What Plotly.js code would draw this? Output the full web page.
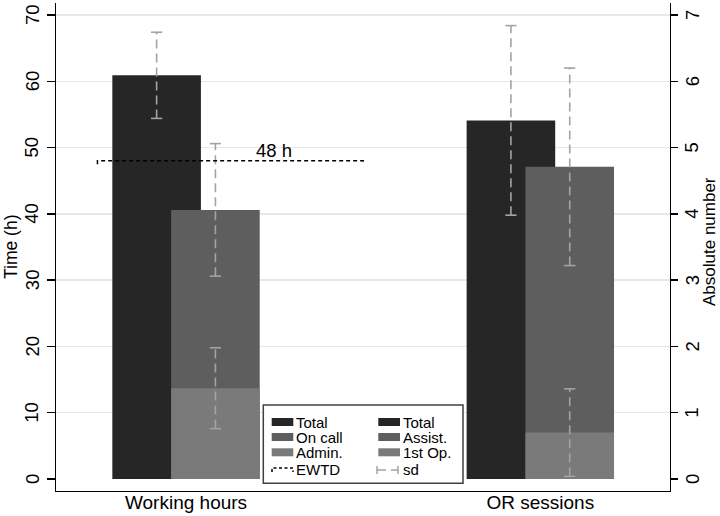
<!DOCTYPE html>
<html><head><meta charset="utf-8">
<script src="https://cdn.plot.ly/plotly-3.0.1.min.js"></script>
<style>html,body{margin:0;padding:0;background:#fff}</style>
</head><body><div id="chart" style="width:720px;height:516px"></div>
<script>
// ---- data ----
const categories = ['Working hours', 'OR sessions'];
const whLabels = ['Total', 'On call', 'Admin.'];
const whMeans = [60.9, 40.6, 13.7];
const whSD = [6.5, 10.0, 6.1];
const orLabels = ['Total', 'Assist.', '1st Op.'];
const orMeans = [5.41, 4.71, 0.70];
const orSD = [1.43, 1.49, 0.66];
const ewtdHours = 48;
const ewtdLabel = '48 h';
const ewtdSpan = [-0.25, 0.5];
const legendCol1 = ['Total', 'On call', 'Admin.', 'EWTD'];
const legendCol2 = ['Total', 'Assist.', '1st Op.', 'sd'];
const yTitleLeft = 'Time (h)';
const yTitleRight = 'Absolute number';
const leftTicks = [0, 10, 20, 30, 40, 50, 60, 70];
const rightTicks = [0, 1, 2, 3, 4, 5, 6, 7];

// ---- style ----
const FONT = 'Liberation Sans, Arial, Helvetica, sans-serif';
const barColors = ['#262626', '#5e5e5e', '#7a7a7a'];
const slotOffset = [-0.208, -0.042, -0.042];
const barWidth = 0.25;
const errColor = '#a3a3a3';

const traces = [];
function addGroup(catIndex, labels, means, sds, yaxis) {
  labels.forEach((lab, i) => {
    traces.push({
      type: 'bar', x: [catIndex], y: [means[i]], yaxis: yaxis,
      offset: slotOffset[i], width: barWidth,
      marker: {color: barColors[i], line: {width: 0}},
      name: lab, showlegend: false, hoverinfo: 'skip'
    });
  });
  const ex = [], ey = [];
  labels.forEach((lab, i) => {
    const xc = catIndex + slotOffset[i] + barWidth / 2;
    ex.push(xc, xc, null);
    ey.push(means[i] - sds[i], means[i] + sds[i], null);
  });
  traces.push({
    type: 'scatter', mode: 'lines+markers', x: ex, y: ey, yaxis: yaxis,
    line: {color: errColor, width: 1.6, dash: '9px,5px'},
    marker: {symbol: 'line-ew', size: 8, color: errColor, line: {color: errColor, width: 1.6}},
    showlegend: false, hoverinfo: 'skip', cliponaxis: false
  });
}
addGroup(0, whLabels, whMeans, whSD, 'y');

const drop = 0.5;
traces.push({
  type: 'scatter', mode: 'lines',
  x: [ewtdSpan[0], ewtdSpan[0], ewtdSpan[1], ewtdSpan[1]],
  y: [ewtdHours - drop, ewtdHours, ewtdHours, ewtdHours - drop],
  line: {color: '#000', width: 1.5, dash: '4px,3px'},
  showlegend: false, hoverinfo: 'skip', name: 'EWTD'
});
addGroup(1, orLabels, orMeans, orSD, 'y2');

// ---- pixel -> paper helpers ----
const PL = 56, PR = 670, PT = 3, PB = 491;
const px = x => (x - PL) / (PR - PL);
const py = y => (PB - y) / (PB - PT);

const shapes = [];
const annotations = [];

// rotated y tick labels (Stata style, read bottom-to-top)
leftTicks.forEach(v => annotations.push({
  text: String(v), xref: 'paper', yref: 'y', x: px(32), y: v, textangle: -90,
  xanchor: 'center', yanchor: 'middle', showarrow: false, borderpad: 0,
  font: {family: FONT, size: 18.5, color: '#000'}
}));
rightTicks.forEach(v => annotations.push({
  text: String(v), xref: 'paper', yref: 'y2', x: px(692), y: v, textangle: -90,
  xanchor: 'center', yanchor: 'middle', showarrow: false, borderpad: 0,
  font: {family: FONT, size: 18.5, color: '#000'}
}));
// axis titles
annotations.push({text: yTitleLeft, xref: 'paper', yref: 'paper', x: px(11), y: py(247),
  textangle: -90, xanchor: 'center', yanchor: 'middle', showarrow: false, borderpad: 0,
  font: {family: FONT, size: 17.5, color: '#000'}});
annotations.push({text: yTitleRight, xref: 'paper', yref: 'paper', x: px(709), y: py(242),
  textangle: -90, xanchor: 'center', yanchor: 'middle', showarrow: false, borderpad: 0,
  font: {family: FONT, size: 17, color: '#000'}});

// legend box
shapes.push({type: 'rect', xref: 'paper', yref: 'paper', layer: 'above',
  x0: px(263.3), x1: px(463), y0: py(483.3), y1: py(405),
  line: {color: '#404040', width: 1.5}, fillcolor: '#fff'});
const rowY = [422, 437, 452.3, 469.5];
const colSym = [[271.7, 293.3], [378.3, 400]];
const colText = [295, 402];
[0, 1].forEach(c => {
  for (let r = 0; r < 3; r++) {
    shapes.push({type: 'rect', xref: 'paper', yref: 'paper', layer: 'above',
      x0: px(colSym[c][0]), x1: px(colSym[c][1]), y0: py(rowY[r] + 4), y1: py(rowY[r] - 4),
      line: {width: 0}, fillcolor: barColors[r]});
  }
});
// EWTD symbol
shapes.push({type: 'path', xref: 'paper', yref: 'paper', layer: 'above',
  path: `M ${px(272)},${py(472)} L ${px(272)},${py(468)} L ${px(293)},${py(468)} L ${px(293)},${py(472)}`,
  line: {color: '#000', width: 1.5, dash: '3px,2.5px'}});
// sd symbol
shapes.push({type: 'line', xref: 'paper', yref: 'paper', layer: 'above',
  x0: px(377), x1: px(398), y0: py(470), y1: py(470),
  line: {color: errColor, width: 1.5, dash: '9px,5px'}});
[377, 398].forEach(xx => shapes.push({type: 'line', xref: 'paper', yref: 'paper', layer: 'above',
  x0: px(xx), x1: px(xx), y0: py(466), y1: py(474), line: {color: errColor, width: 1.5}}));

[legendCol1, legendCol2].forEach((col, c) => {
  col.forEach((t, r) => annotations.push({
    text: t, xref: 'paper', yref: 'paper', x: px(colText[c]), y: py(rowY[r]),
    xanchor: 'left', yanchor: 'middle', showarrow: false, borderpad: 0,
    font: {family: FONT, size: 15, color: '#000'}
  }));
});
annotations.push({text: ewtdLabel, xref: 'x', yref: 'y', x: 0.248, y: ewtdHours,
  xanchor: 'center', yanchor: 'bottom', yshift: -2, showarrow: false,
  font: {family: FONT, size: 18.5, color: '#000'}});

const layout = {
  width: 720, height: 516,
  margin: {l: PL, r: 720 - PR, t: PT, b: 516 - PB},
  paper_bgcolor: '#fff', plot_bgcolor: '#fff',
  font: {family: FONT, color: '#000'},
  barmode: 'overlay', showlegend: false,
  xaxis: {
    range: [-0.367, 1.366], tickmode: 'array', tickvals: [0, 1], ticktext: categories,
    showgrid: false, zeroline: false, showline: true, linecolor: '#000', linewidth: 1.3,
    ticks: '', ticklabelstandoff: -6, tickfont: {family: FONT, size: 19, color: '#000'}
  },
  yaxis: {
    range: [-1.81, 71.81], tickmode: 'array', tickvals: leftTicks, showticklabels: false,
    ticks: 'outside', ticklen: 8, tickwidth: 1.3, tickcolor: '#000',
    showline: true, linecolor: '#000', linewidth: 1.3,
    showgrid: true, gridcolor: '#e8e8e8', gridwidth: 1.3,
    zeroline: true, zerolinecolor: '#fff', zerolinewidth: 1.3
  },
  yaxis2: {
    overlaying: 'y', side: 'right', range: [-0.181, 7.181], tickmode: 'array', tickvals: rightTicks,
    showticklabels: false,
    ticks: 'outside', ticklen: 7, tickwidth: 1.3, tickcolor: '#000',
    showline: true, linecolor: '#000', linewidth: 1.3, showgrid: false, zeroline: false
  },
  shapes: shapes, annotations: annotations
};
Plotly.newPlot('chart', traces, layout, {staticPlot: true, displayModeBar: false});
</script></body></html>
